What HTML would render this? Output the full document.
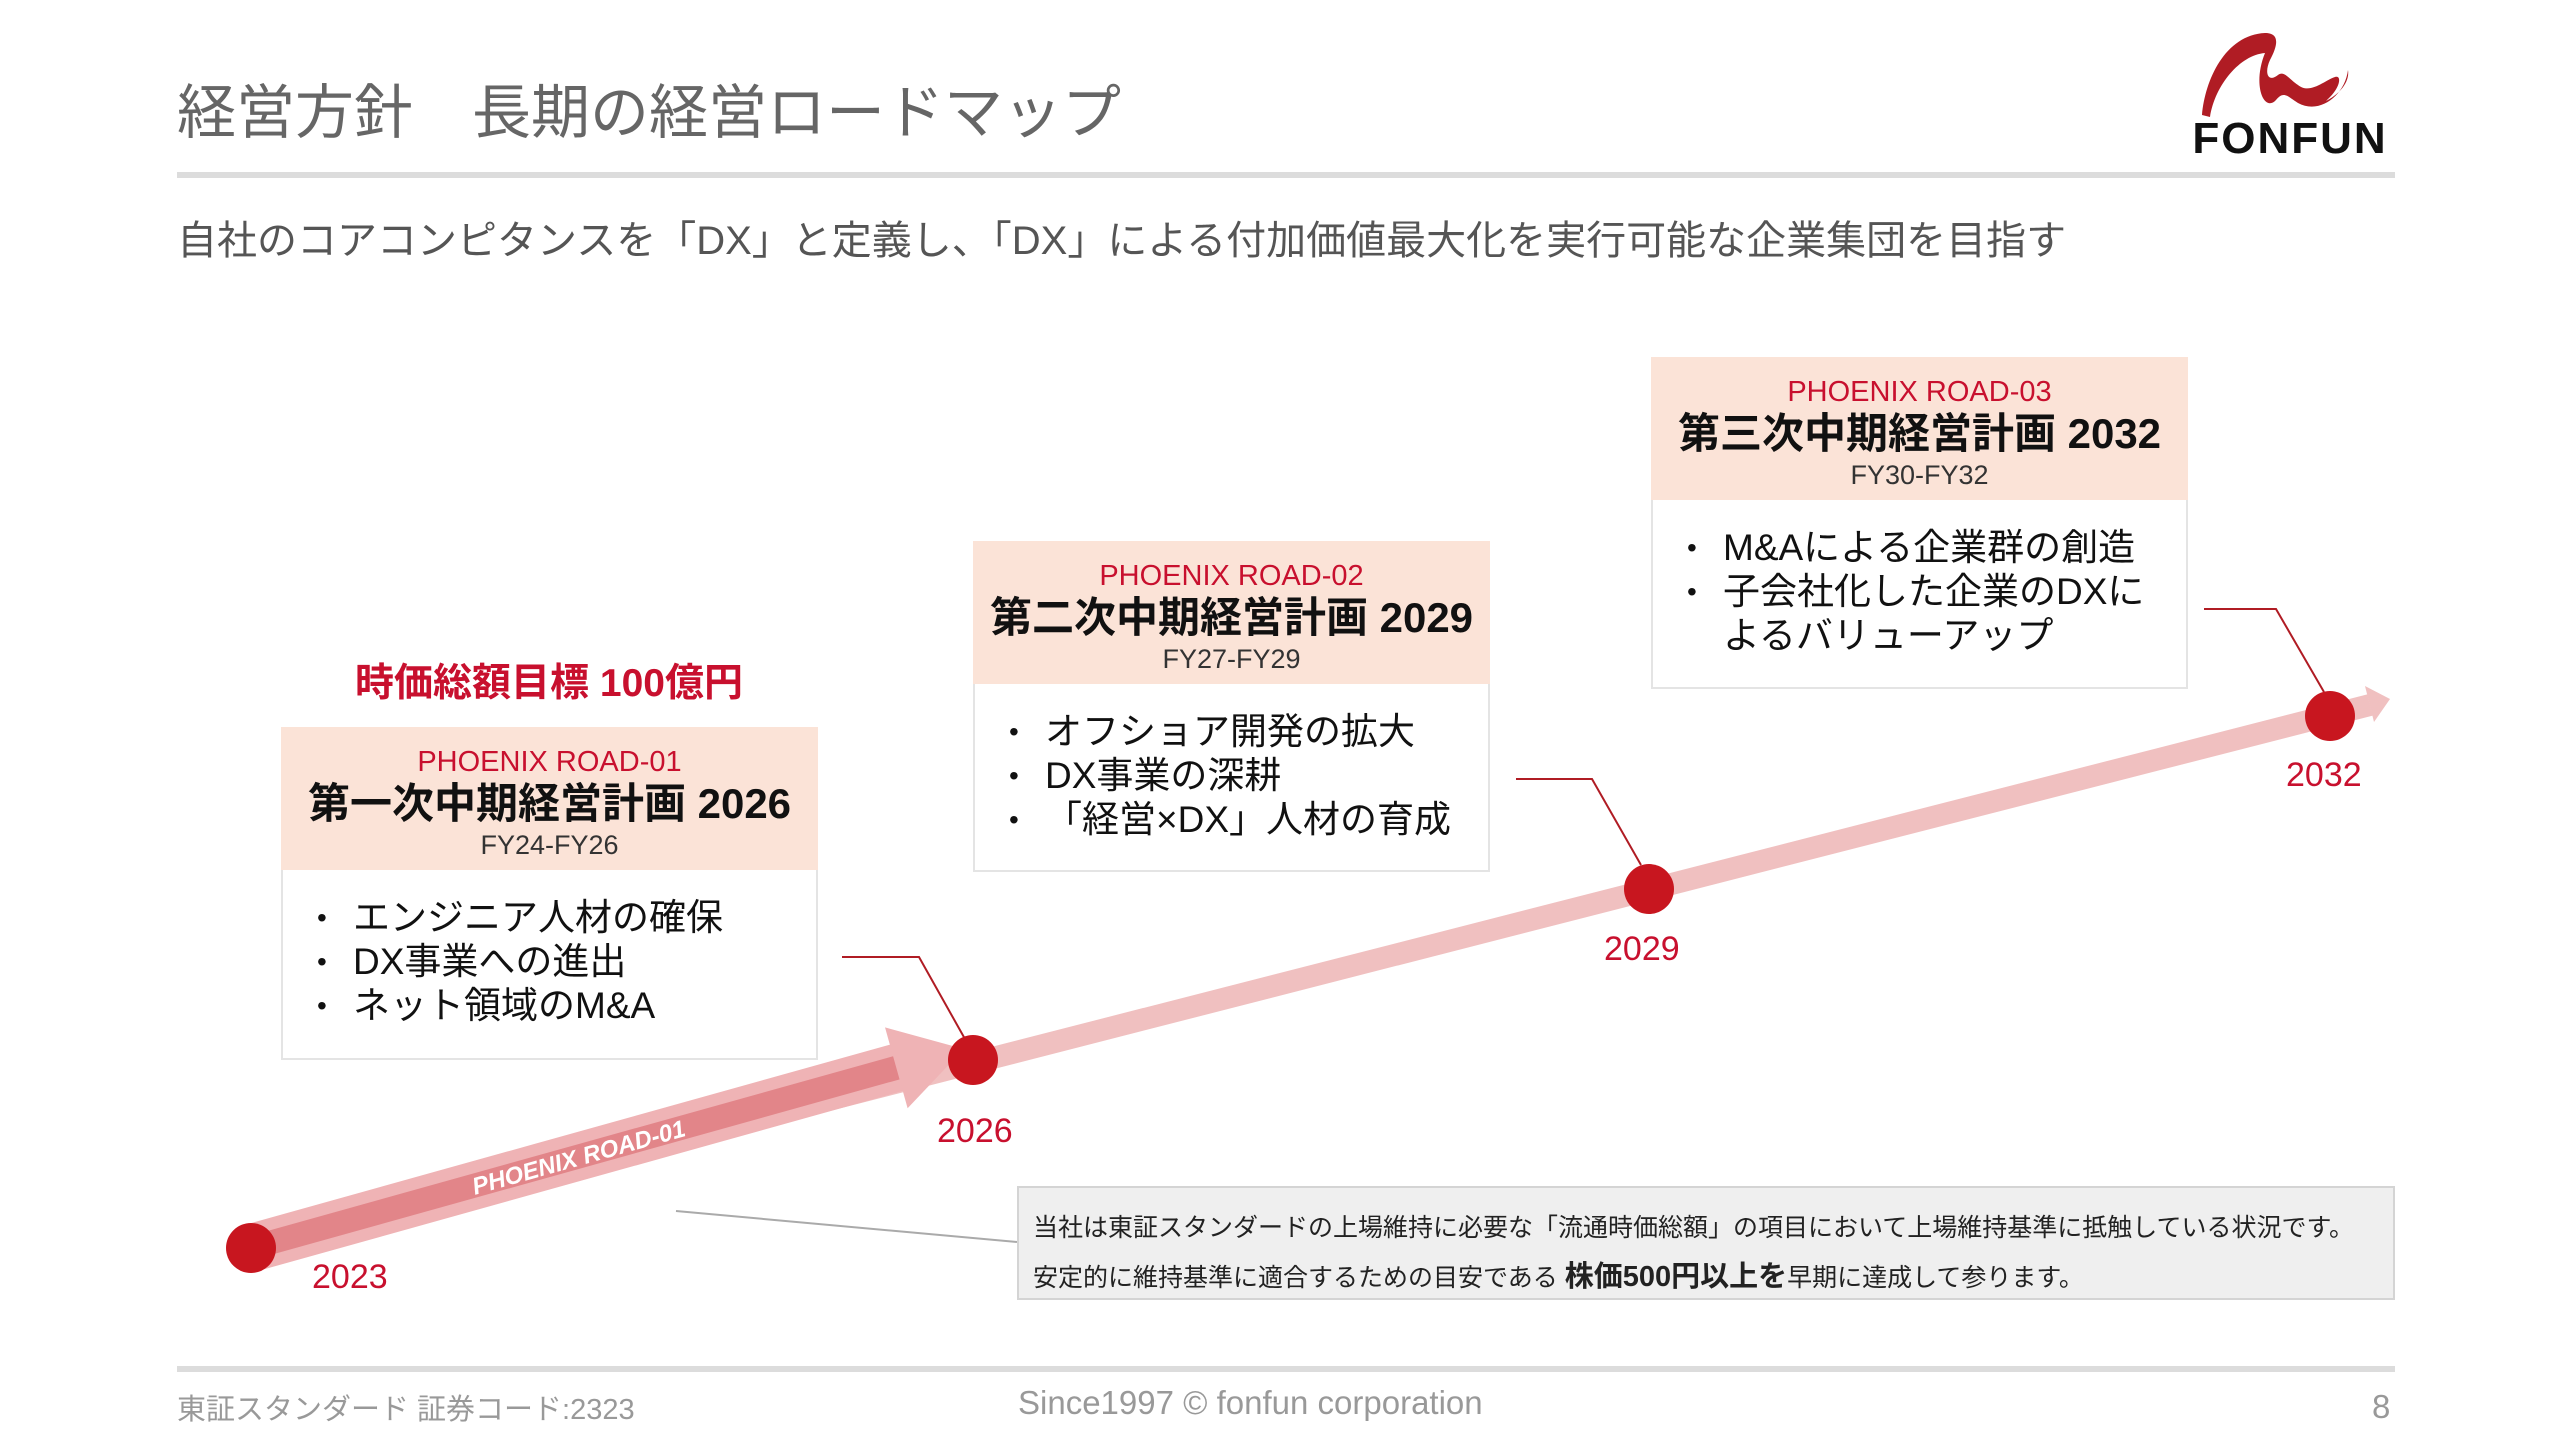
<!DOCTYPE html>
<html><head><meta charset="utf-8"><style>
body{margin:0;width:2560px;height:1440px;background:#fff;position:relative;overflow:hidden;font-family:"Liberation Sans","Noto Sans CJK JP",sans-serif}
.a{position:absolute}
.hd{background:#fbe3d7;text-align:center}
.bd{background:#fff;border:2px solid #e4e4e4;border-top:none;box-sizing:border-box}
.pr{color:#c8102e;font-size:29px;line-height:34px}
.tt{color:#111;font-size:42px;font-weight:bold;line-height:50px}
.fy{color:#333;font-size:27px;line-height:32px}
ul{margin:0;padding:0;list-style:none}
li{font-size:37px;line-height:44px;color:#111;padding-left:70px;position:relative}
li:before{content:"•";position:absolute;left:34px;font-size:28px}
.yr{color:#c8102e;font-size:34px}
</style></head><body>
<div class="a" style="left:177px;top:78px;font-size:59px;color:#666;line-height:70px;white-space:nowrap">経営方針　長期の経営ロードマップ</div>
<div class="a" style="left:177px;top:172px;width:2218px;height:6px;background:#dcdcdc"></div>
<svg class="a" style="left:2180px;top:25px" width="220" height="135" viewBox="0 0 220 135">
<path d="M22 90 C25 55 45 10 85 8 C100 8 98 20 90 35 C84 48 88 58 98 50 C104 45 110 55 118 60 C130 70 145 55 155 52 C162 50 160 62 150 72 L146 76 C158 70 170 58 168 45 C165 70 140 90 118 78 C108 72 104 65 96 75 C84 88 72 60 85 28 C60 30 35 60 30 92 Z" fill="#b01c24"/>
<text x="110" y="128" text-anchor="middle" font-family="Liberation Sans, sans-serif" font-weight="bold" font-size="44" fill="#111" letter-spacing="2">FONFUN</text>
</svg>
<div class="a" style="left:177px;top:214px;font-size:40px;color:#555;line-height:54px;white-space:nowrap">自社のコアコンピタンスを「DX」と定義し、「DX」による付加価値最大化を実行可能な企業集団を目指す</div>

<svg class="a" style="left:0;top:0" width="2560" height="1440">
<line x1="251" y1="1248" x2="2370" y2="705" stroke="#f0c0c0" stroke-width="22"/>
<polygon points="2365,686 2390,699 2374,722" fill="#f0c0c0"/>
<g transform="translate(251,1248) rotate(-15.6)">
<rect x="0" y="-24" width="680" height="48" fill="#efb3b5"/>
<rect x="0" y="-12" width="680" height="24" fill="#e28589"/>
<polygon points="670,-42 740,0 670,42" fill="#efb3b5"/>
<text x="340" y="9" text-anchor="middle" font-family="Liberation Sans, sans-serif" font-size="24" font-weight="bold" font-style="italic" fill="#fff">PHOENIX ROAD-01</text>
</g>
<line x1="676" y1="1211" x2="1017" y2="1242" stroke="#aaa" stroke-width="2"/>
<polyline points="842,957 919,957 965,1039" fill="none" stroke="#b01c24" stroke-width="2"/>
<polyline points="1516,779 1592,779 1641,865" fill="none" stroke="#b01c24" stroke-width="2"/>
<polyline points="2204,609 2276,609 2324,692" fill="none" stroke="#b01c24" stroke-width="2"/>
<circle cx="251" cy="1248" r="25" fill="#c8161f"/>
<circle cx="973" cy="1060" r="25" fill="#c8161f"/>
<circle cx="1649" cy="889" r="25" fill="#c8161f"/>
<circle cx="2330" cy="716" r="25" fill="#c8161f"/>
</svg>
<div class="a yr" style="left:312px;top:1258px">2023</div>
<div class="a yr" style="left:937px;top:1112px">2026</div>
<div class="a yr" style="left:1604px;top:930px">2029</div>
<div class="a yr" style="left:2286px;top:756px">2032</div>

<div class="a" style="left:280px;top:652px;width:538px;text-align:center;color:#c8102e;font-size:39px;font-weight:bold">時価総額目標 100億円</div>

<div class="a hd" style="left:281px;top:727px;width:537px;height:143px;padding-top:18px;box-sizing:border-box"><div class="pr">PHOENIX ROAD-01</div><div class="tt">第一次中期経営計画 2026</div><div class="fy">FY24-FY26</div></div>
<div class="a bd" style="left:281px;top:870px;width:537px;height:190px;padding-top:26px"><ul><li>エンジニア人材の確保</li><li>DX事業への進出</li><li>ネット領域のM&amp;A</li></ul></div>

<div class="a hd" style="left:973px;top:541px;width:517px;height:143px;padding-top:18px;box-sizing:border-box"><div class="pr">PHOENIX ROAD-02</div><div class="tt">第二次中期経営計画 2029</div><div class="fy">FY27-FY29</div></div>
<div class="a bd" style="left:973px;top:684px;width:517px;height:188px;padding-top:26px"><ul><li>オフショア開発の拡大</li><li>DX事業の深耕</li><li>「経営×DX」人材の育成</li></ul></div>

<div class="a hd" style="left:1651px;top:357px;width:537px;height:143px;padding-top:18px;box-sizing:border-box"><div class="pr">PHOENIX ROAD-03</div><div class="tt">第三次中期経営計画 2032</div><div class="fy">FY30-FY32</div></div>
<div class="a bd" style="left:1651px;top:500px;width:537px;height:189px;padding-top:26px"><ul><li>M&amp;Aによる企業群の創造</li><li>子会社化した企業のDXに<br>よるバリューアップ</li></ul></div>

<div class="a" style="left:1017px;top:1186px;width:1378px;height:114px;background:#efefef;border:2px solid #d4d4d4;box-sizing:border-box;padding:16px 0 0 14px;font-size:25px;line-height:49px;color:#222;white-space:nowrap">当社は東証スタンダードの上場維持に必要な「流通時価総額」の項目において上場維持基準に抵触している状況です。<br>安定的に維持基準に適合するための目安である <b style="font-size:29px">株価500円以上を</b>早期に達成して参ります。</div>

<div class="a" style="left:177px;top:1366px;width:2218px;height:6px;background:#dcdcdc"></div>
<div class="a" style="left:177px;top:1386px;font-size:29px;color:#999">東証スタンダード 証券コード:2323</div>
<div class="a" style="left:1018px;top:1384px;font-size:33px;color:#999">Since1997 © fonfun corporation</div>
<div class="a" style="left:2372px;top:1388px;font-size:33px;color:#999">8</div>
</body></html>
